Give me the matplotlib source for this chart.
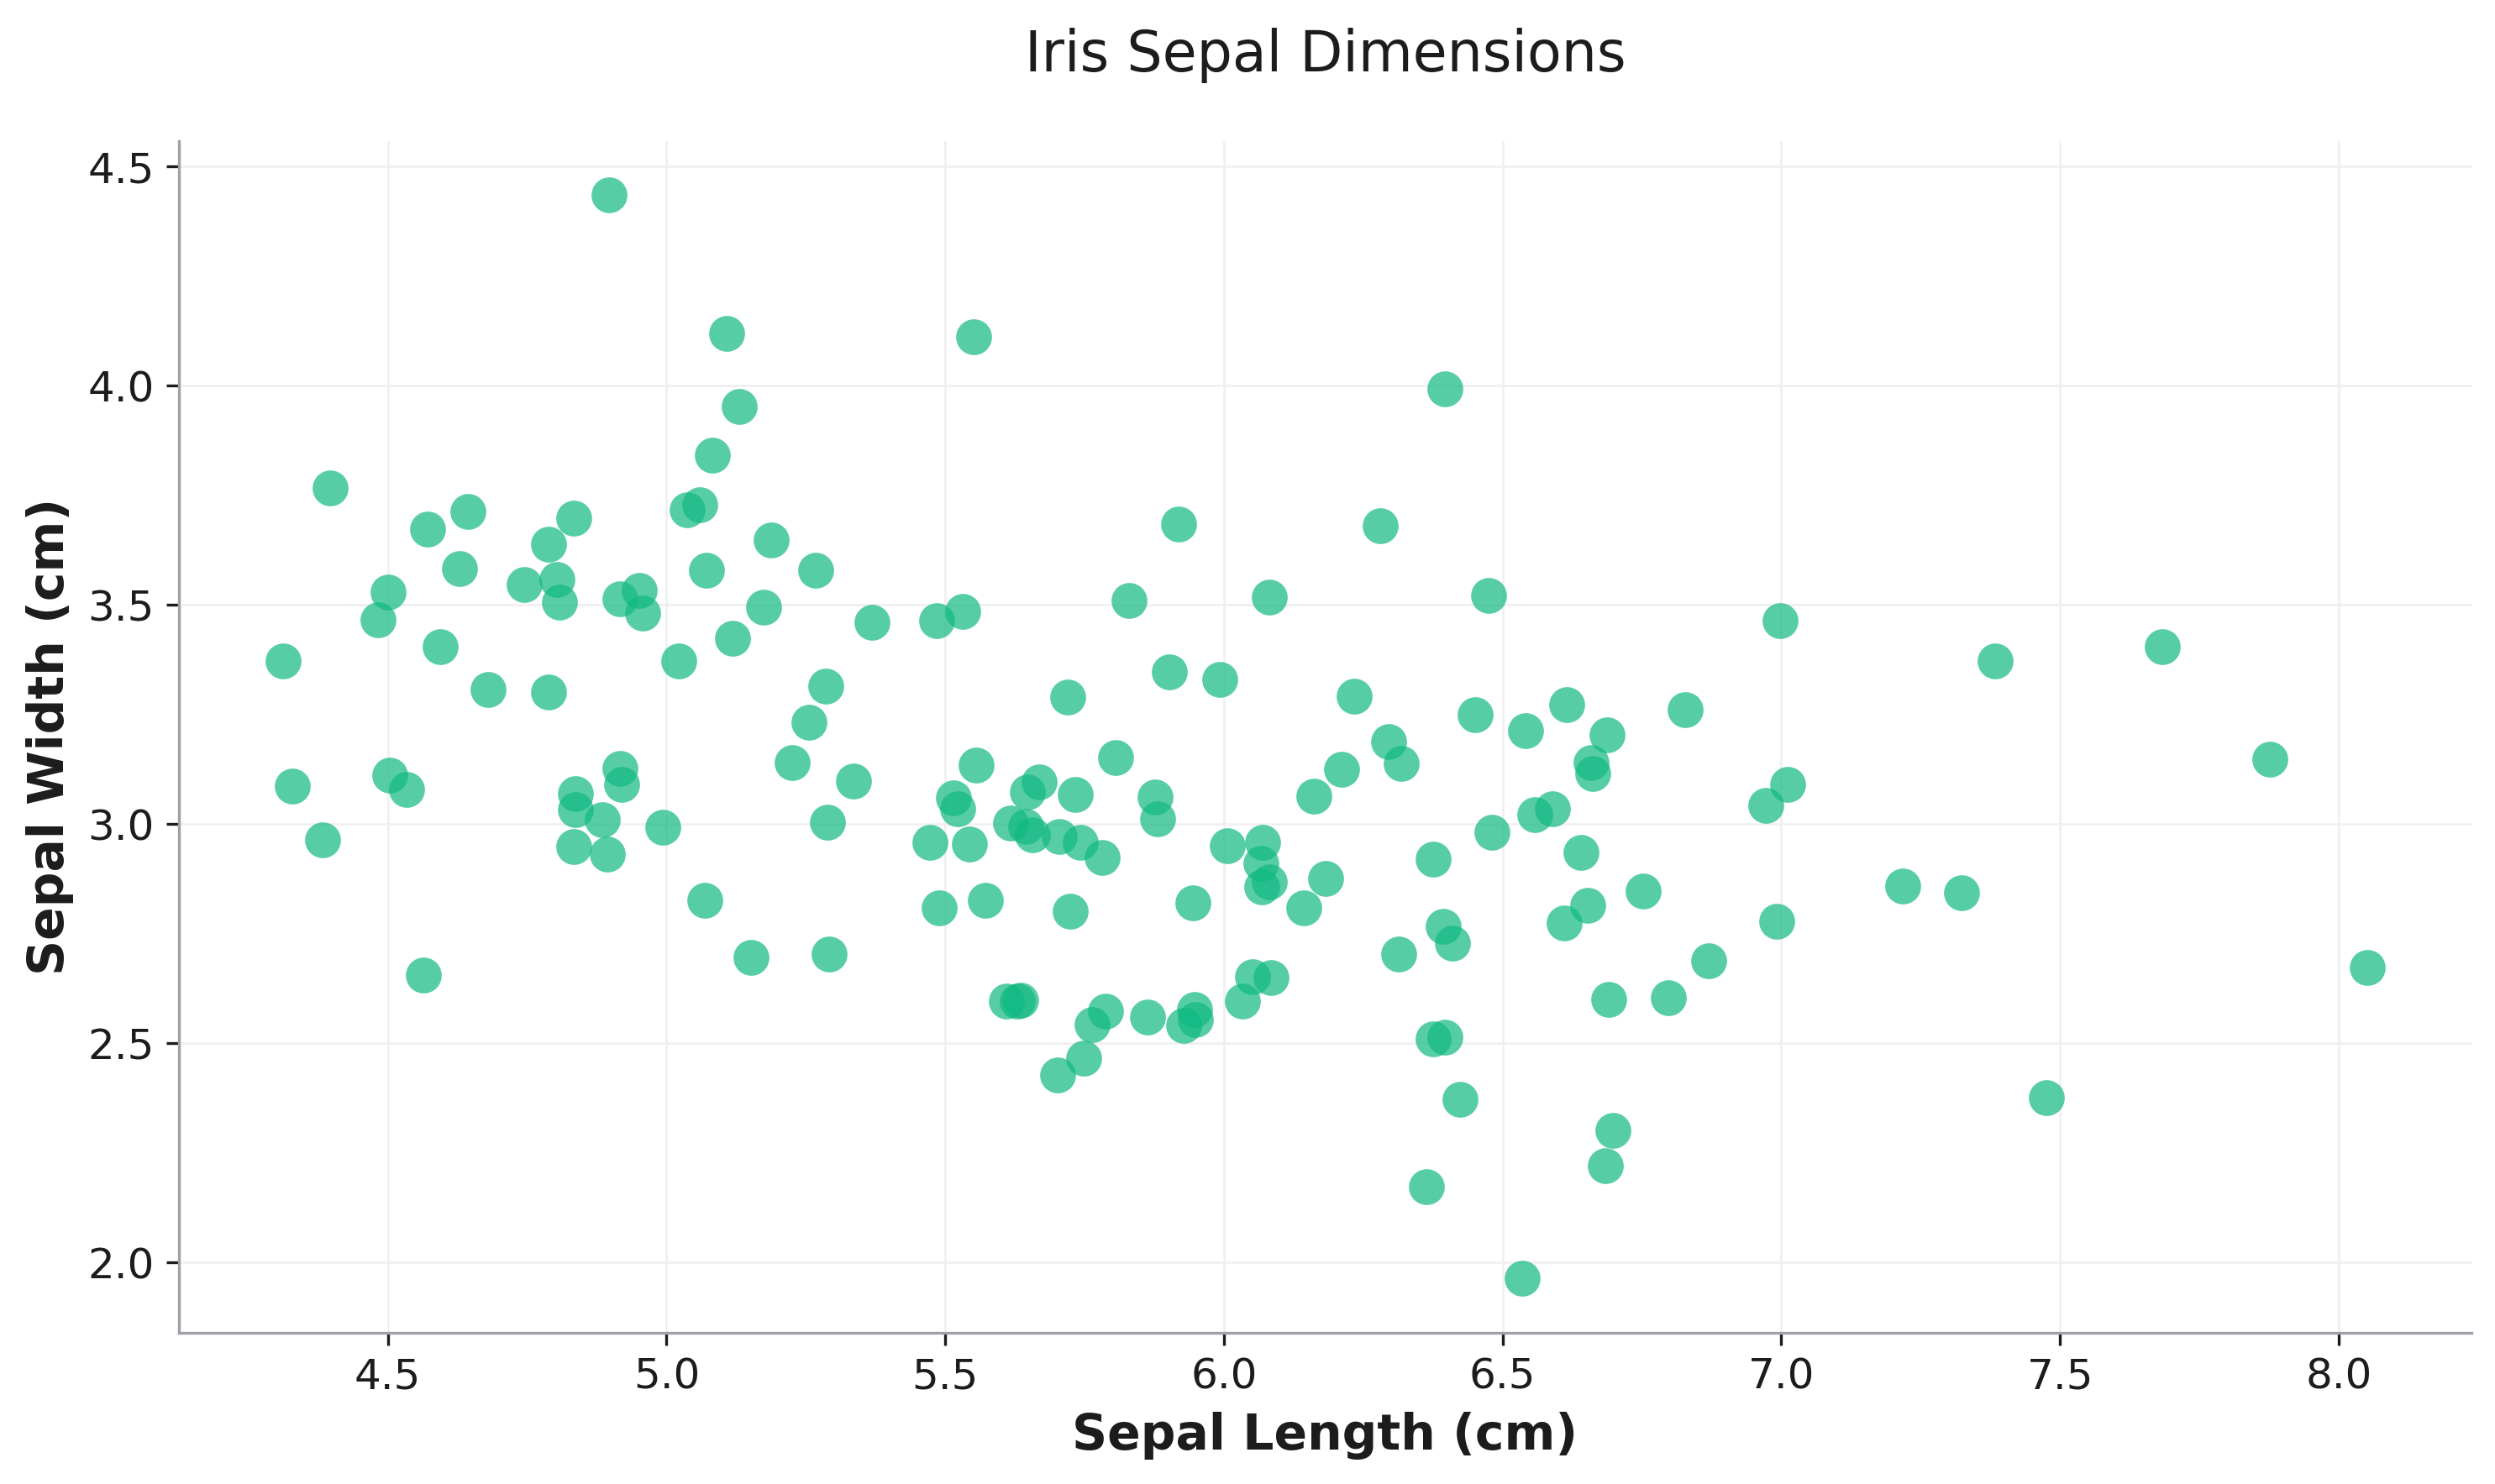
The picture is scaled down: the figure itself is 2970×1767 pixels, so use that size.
import numpy as np
import matplotlib.pyplot as plt

sepal_length = [
    4.312, 4.329, 4.383, 4.397, 4.483, 4.500, 4.503, 4.534, 4.563, 4.571,
    4.594, 4.628, 4.643, 4.680, 4.745, 4.788, 4.788, 4.803, 4.808, 4.834,
    4.837, 4.837, 4.834, 4.885, 4.894, 4.897, 4.917, 4.917, 4.920, 4.951,
    4.957, 4.994, 5.022, 5.037, 5.060, 5.071, 5.068, 5.082, 5.108, 5.119,
    5.131, 5.151, 5.174, 5.188, 5.225, 5.256, 5.268, 5.285, 5.288, 5.291,
    5.336, 5.368, 5.472, 5.485, 5.489, 5.515, 5.523, 5.531, 5.543, 5.551,
    5.555, 5.572, 5.610, 5.618, 5.630, 5.636, 5.645, 5.648, 5.656, 5.669,
    5.701, 5.704, 5.719, 5.725, 5.734, 5.743, 5.748, 5.763, 5.781, 5.788,
    5.806, 5.830, 5.863, 5.877, 5.881, 5.902, 5.919, 5.927, 5.948, 5.949,
    5.945, 5.993, 6.006, 6.033, 6.052, 6.066, 6.070, 6.068, 6.082, 6.085,
    6.081, 6.144, 6.162, 6.183, 6.211, 6.233, 6.281, 6.296, 6.313, 6.318,
    6.364, 6.376, 6.376, 6.393, 6.396, 6.396, 6.410, 6.424, 6.450, 6.475,
    6.481, 6.535, 6.541, 6.558, 6.590, 6.610, 6.615, 6.641, 6.652, 6.658,
    6.661, 6.684, 6.687, 6.690, 6.698, 6.752, 6.798, 6.827, 6.869, 6.972,
    6.992, 6.998, 7.012, 7.218, 7.323, 7.383, 7.475, 7.683, 7.877, 8.051,
]
sepal_width = [
    3.373, 3.087, 2.964, 3.768, 3.467, 3.529, 3.112, 3.080, 2.656, 3.674,
    3.406, 3.583, 3.714, 3.308, 3.547, 3.638, 3.301, 3.558, 3.507, 3.699,
    3.069, 3.033, 2.949, 3.011, 2.931, 4.435, 3.514, 3.127, 3.091, 3.533,
    3.482, 2.993, 3.373, 3.717, 3.728, 3.580, 2.826, 3.841, 4.120, 3.424,
    3.953, 2.696, 3.496, 3.649, 3.141, 3.232, 3.580, 3.315, 3.004, 2.703,
    3.098, 3.460, 2.959, 3.464, 2.810, 3.060, 3.035, 3.486, 2.955, 4.112,
    3.135, 2.826, 2.597, 3.003, 2.597, 2.599, 2.996, 3.074, 2.976, 3.097,
    2.429, 2.973, 3.290, 2.801, 3.068, 2.959, 2.467, 2.543, 2.925, 2.574,
    3.153, 3.511, 2.560, 3.063, 3.013, 3.348, 3.685, 2.541, 2.578, 2.555,
    2.820, 3.330, 2.952, 2.597, 2.652, 2.910, 2.959, 2.858, 2.868, 2.650,
    3.518, 2.809, 3.065, 2.877, 3.125, 3.293, 3.681, 3.188, 2.703, 3.138,
    2.174, 2.511, 2.920, 2.768, 2.514, 3.993, 2.728, 2.373, 3.250, 3.522,
    2.982, 1.964, 3.214, 3.022, 3.036, 2.775, 3.272, 2.935, 2.815, 3.141,
    3.116, 2.221, 3.203, 2.601, 2.301, 2.848, 2.605, 3.261, 2.688, 3.043,
    2.779, 3.464, 3.091, 2.859, 2.844, 3.373, 2.377, 3.406, 3.149, 2.674,
]

text_col = '#1c1c1c'

fig, ax = plt.subplots(figsize=(9.9, 5.89), dpi=300)
fig.subplots_adjust(left=0.0717, right=0.9905, bottom=0.102, top=0.905)

ax.scatter(sepal_length, sepal_width, s=105, color='#10b981', alpha=0.7,
           linewidths=0, zorder=3)

ax.set_title('Iris Sepal Dimensions', fontsize=16, color=text_col, pad=20)
ax.set_xlabel('Sepal Length (cm)', fontsize=14, fontweight='bold', color=text_col)
ax.set_ylabel('Sepal Width (cm)', fontsize=14, fontweight='bold', color=text_col)

ax.grid(True, color='#efefef', linewidth=0.6, zorder=0)
ax.set_axisbelow(True)
for side in ['top', 'right']:
    ax.spines[side].set_visible(False)
for side in ['left', 'bottom']:
    ax.spines[side].set_color('#a0a0aa')
    ax.spines[side].set_linewidth(0.8)
ax.tick_params(labelsize=12, colors=text_col, length=3.5, width=0.8)

fig.savefig('out.png', dpi=300)
